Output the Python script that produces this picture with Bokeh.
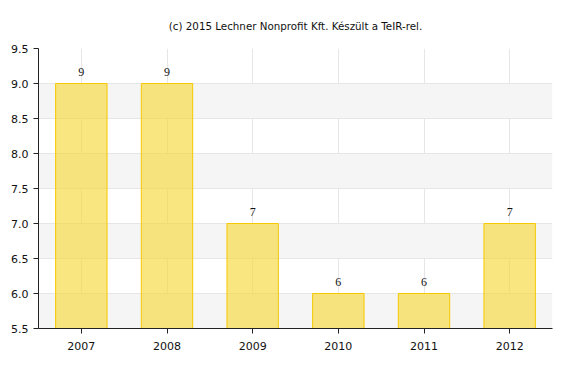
from bokeh.plotting import figure
from bokeh.models import ColumnDataSource, LabelSet, FactorRange, Range1d, FixedTicker, CustomJSTickFormatter
from bokeh.embed import file_html
from bokeh.resources import INLINE

years = ["2007", "2008", "2009", "2010", "2011", "2012"]
values = [9, 9, 7, 6, 6, 7]
labels = [str(v) for v in values]
y_ticks = [5.5, 6.0, 6.5, 7.0, 7.5, 8.0, 8.5, 9.0, 9.5]
title_text = "(c) 2015 Lechner Nonprofit Kft. Készült a TeIR-rel."

src = ColumnDataSource(dict(x=years, top=values, lab=labels))

p = figure(x_range=FactorRange(*years, range_padding=0), y_range=Range1d(5.5, 9.5),
           width=571, height=357, output_backend="svg", toolbar_location=None,
           min_border_left=38, min_border_right=19, min_border_top=48, min_border_bottom=29,
           title=title_text)
p.title.text_font = "DejaVu Sans"
p.title.text_font_size = "10.3px"
p.title.text_font_style = "normal"
p.title.text_color = "#111111"
p.title.align = "center"
p.title.standoff = 33
p.outline_line_color = None

p.vbar(x="x", top="top", bottom=5.5, width=0.6, source=src,
       fill_color="#f8d93e", fill_alpha=0.65, line_color="#f5c800", line_width=1)

p.add_layout(LabelSet(x="x", y="top", text="lab", source=src, text_align="center",
                      text_baseline="bottom", y_offset=8, text_font="DejaVu Sans",
                      text_font_size="12px", text_color="#111111"))

p.yaxis.ticker = FixedTicker(ticks=y_ticks)
p.yaxis.formatter = CustomJSTickFormatter(code="return tick.toFixed(1);")
for ax in (p.xaxis, p.yaxis):
    ax.major_label_text_font = "DejaVu Sans"
    ax.major_label_text_font_size = "11px"
    ax.major_label_text_color = "#111111"
    ax.axis_line_color = "#222222"
    ax.major_tick_line_color = "#222222"
    ax.major_tick_out = 5
    ax.major_tick_in = 0
    ax.minor_tick_line_color = None
p.xaxis.major_label_standoff = 8
p.yaxis.major_label_standoff = 5

p.ygrid.ticker = FixedTicker(ticks=[y_ticks[0]] + y_ticks)
p.ygrid.grid_line_color = "#e6e6e6"
p.ygrid.band_fill_color = "#f5f5f5"
p.ygrid.band_fill_alpha = 1
p.xgrid.grid_line_color = "#e6e6e6"

open("out.html", "w").write(file_html(p, INLINE))
